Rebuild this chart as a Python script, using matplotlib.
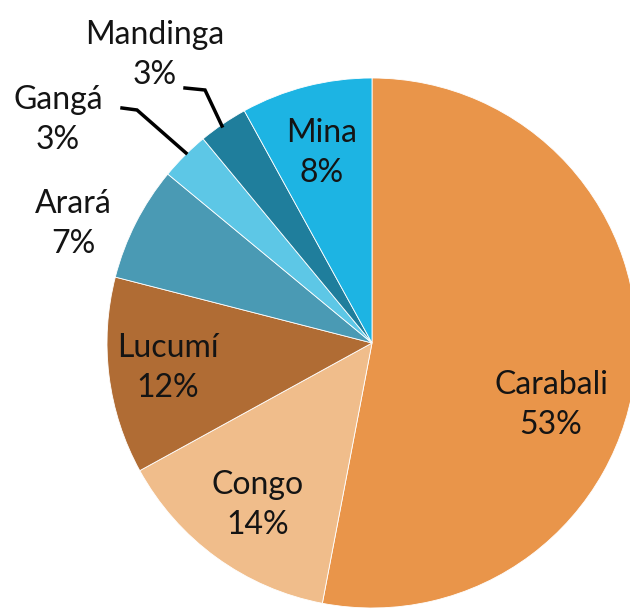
import matplotlib.pyplot as plt

labels = ['Carabali', 'Congo', 'Lucumí', 'Arará', 'Gangá', 'Mandinga', 'Mina']
values = [53, 14, 12, 7, 3, 3, 8]
colors = ['#E9954A', '#F0BD8B', '#B06C34', '#4A9AB4', '#5DC7E6', '#1F7E9C', '#1DB4E3']

# label anchor points (pixel coords, top-left origin)
label_pos = [(551, 405), (258, 505), (168, 368), (73, 224), (58, 120), (155, 55), (322, 153)]

W, H = 630, 609
fig = plt.figure(figsize=(W / 100, H / 100), dpi=100)
ax = fig.add_axes([0, 0, 1, 1])

ax.pie(values, colors=colors, startangle=90, counterclock=False,
       center=(372, H - 343), radius=265, frame=True,
       wedgeprops=dict(edgecolor='white', linewidth=0.6))
ax.set_xlim(0, W)
ax.set_ylim(0, H)
ax.set_aspect('equal')
ax.axis('off')

for lab, val, (x, y) in zip(labels, values, label_pos):
    ax.text(x, H - y, f'{lab}\n{val}%', ha='center', va='center',
            fontsize=23, family='Lato', color='#141414', linespacing=1.42)

# leader lines for small slices
ax.plot([122, 137, 186], [H - 108, H - 110, H - 153], color='black', lw=2.5,
        solid_joinstyle='miter')
ax.plot([185, 205, 222], [H - 88, H - 90, H - 126], color='black', lw=2.5,
        solid_joinstyle='miter')

fig.savefig('out.png', dpi=100)
